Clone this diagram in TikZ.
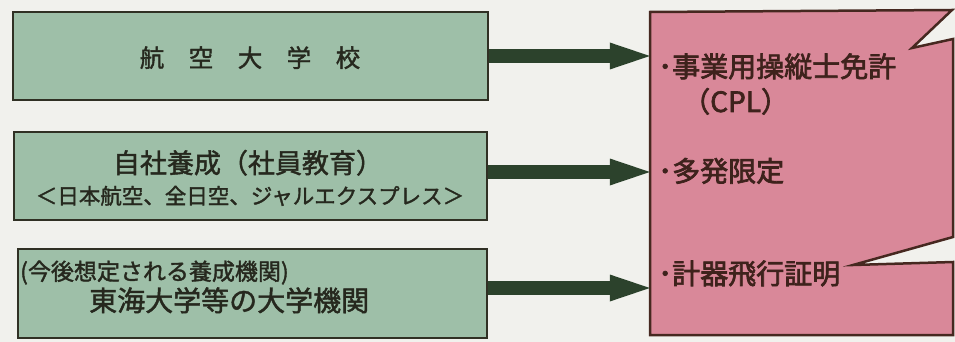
\documentclass[tikz,border=0pt]{standalone}
\usepackage{fontspec}
\setmainfont{Noto Sans CJK JP}
\newfontfamily\medfont[FakeBold=1.6]{Noto Sans CJK JP}
\newfontfamily\heavyfont[FakeBold=2.4]{Noto Sans CJK JP}
\usetikzlibrary{arrows.meta}
\definecolor{bgc}{RGB}{241,241,237}
\definecolor{boxgreen}{RGB}{158,191,168}
\definecolor{boxpink}{RGB}{217,136,153}
\definecolor{edgec}{RGB}{48,48,36}
\definecolor{pinkedge}{RGB}{70,40,32}
\definecolor{arrowc}{RGB}{44,66,44}
\definecolor{txtc}{RGB}{38,40,30}
\definecolor{ptxtc}{RGB}{62,34,28}
\newcommand{\fsz}[1]{\fontsize{#1}{#1}\selectfont}
\begin{document}
\begin{tikzpicture}[x=1pt,y=-1pt,
  gbox/.style={draw=edgec,fill=boxgreen,line width=2.5pt,rectangle,inner sep=0pt},
  bigarrow/.style={draw=arrowc,line width=14pt,-{Triangle[length=40pt,width=27pt,line width=0pt]}},
  ltxt/.style={inner sep=0pt,text=txtc,font=\medfont},
  ptxt/.style={inner sep=0pt,text=ptxtc,anchor=base west,font=\heavyfont}]
\fill[bgc] (0,0) rectangle (955,342);
\useasboundingbox (0,0) rectangle (955,342);
% left boxes
\node[gbox,minimum width=475pt,minimum height=88pt] (b1) at (250.5,56) {};
\node[gbox,minimum width=473pt,minimum height=88pt] (b2) at (250.5,176) {};
\node[gbox,minimum width=469pt,minimum height=89pt] (b3) at (252.5,293.5) {};
% pink callout
\node[inner sep=0pt,minimum width=303pt,minimum height=323pt] (pink) at (801.5,173.5) {};
\draw[draw=pinkedge,fill=boxpink,line width=2.5pt,line join=miter]
  (650,12) -- (952,10) -- (912,48) -- (953,39) -- (953,237) -- (853,265)
  -- (953,262) -- (953,335) -- (650,335) -- cycle;
% texts in left boxes
\node[ltxt,anchor=base] (t1) at (250,67) {\fsz{24.5pt}航　空　大　学　校};
\node[ltxt,anchor=base] (t2a) at (248,173) {\fsz{27pt}自社養成（社員教育）};
\node[ltxt,anchor=base] (t2b) at (250,204) {\fsz{21.5pt}＜日本航空、全日空、ジャルエクスプレス＞};
\node[ltxt,anchor=base west] (t3a) at (20,280) {\fsz{23pt}(今後想定される養成機関)};
\node[ltxt,anchor=base west] (t3b) at (89,311) {\fsz{28pt}東海大学等の大学機関};
% texts in pink box
\node[ptxt] (p1) at (658,77) {\fsz{28pt}･事業用操縦士免許};
\node[ptxt] (p2) at (682,112) {\fsz{28pt}（CPL）};
\node[ptxt] (p3) at (658,181.5) {\fsz{28pt}･多発限定};
\node[ptxt] (p4) at (658,284) {\fsz{28pt}･計器飛行証明};
% arrows
\coordinate (s2) at ([yshift=4pt]b2.east);
\coordinate (s3) at ([yshift=5.5pt]b3.east);
\draw[bigarrow] (b1.east) -- (b1.east -| pink.west);
\draw[bigarrow] (s2) -- (s2 -| pink.west);
\draw[bigarrow] (s3) -- (s3 -| pink.west);
\end{tikzpicture}
\end{document}
